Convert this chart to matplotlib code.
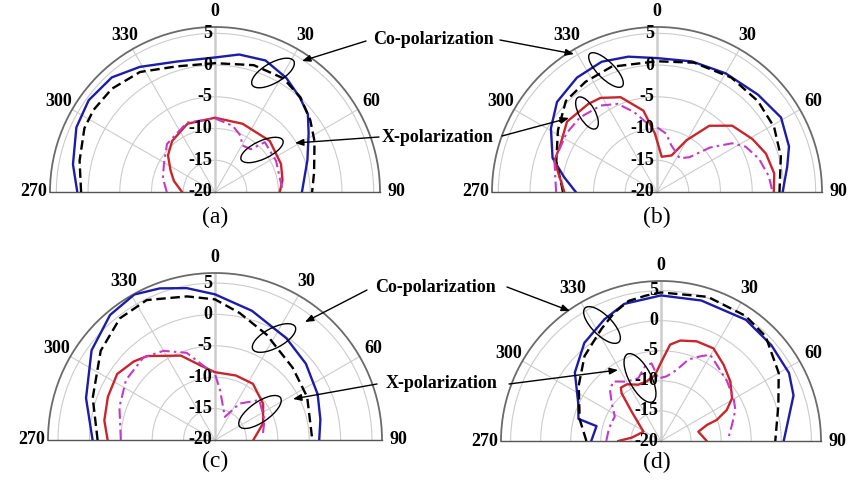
import matplotlib.pyplot as plt
import numpy as np
from matplotlib.patches import Ellipse

plt.rcParams['font.family'] = ['Liberation Serif', 'DejaVu Serif']

# angles in degrees (clockwise from 0 = broadside), gain in dB
# (a)
a_co_ang = [-90, -79, -65, -54, -42, -31, -16, 0, 10, 21, 32, 42, 50, 58, 71, 90]
a_co = [1.7, 2.8, 4.1, 4.6, 4.3, 3.0, 1.4, 1.2, 2.0, 2.2, 1.2, 0.0, -0.9, -2.6, -4.6, -6.3]
a_cs_ang = [-90, -77, -64, -56, -45, -32, -17, 0, 17, 31, 42, 53, 63, 79, 90]
a_cs = [1.1, 1.9, 2.9, 3.1, 3.0, 2.3, 0.7, 0.3, 0.9, 0.9, 0.1, -1.2, -2.4, -4.1, -4.7]
a_xr_ang = [-90, -75, -64, -52, -40, -22, 0, 22, 47, 67, 80, 90]
a_xr = [-14.8, -13.3, -12.2, -10.6, -9.5, -8.4, -8.3, -8.4, -8.2, -8.7, -9.2, -9.8]
a_xm_ang = [-90, -75, -61, -45, -22, 0, 15, 25, 30, 40, 45, 63, 90]
a_xm = [-12.4, -11.5, -10.8, -9.3, -8.2, -8.4, -9.2, -10.3, -11.5, -11.2, -8.9, -9.2, -9.3]

# (b)
b_co_ang = [-90, -81, -72, -59, -48, -35, -23, -12, 0, 15, 30, 46, 59, 71, 79, 90]
b_co = [-7.2, -5.2, -2.7, -0.5, 1.2, 2.0, 2.3, 1.8, 1.1, 1.3, 1.6, 2.1, 2.8, 2.0, 0.9, -0.2]
b_cs_ang = [-90, -73, -58, -45, -33, -20, 0, 16, 33, 48, 61, 74, 90]
b_cs = [-5.2, -3.4, -1.6, 0.3, 0.7, 1.0, 0.6, 1.2, 1.5, 1.4, 1.1, 0.3, -0.7]
b_xr_ang = [-90, -73, -65, -52, -38, -31, -21, -9.5, -2, 7.6, 21.7, 29.7, 38.3, 48.6, 61, 70.6, 81, 90]
b_xr = [-5.4, -3.1, -3.1, -2.0, -2.4, -2.7, -4.0, -7.0, -10.8, -14.4, -13.8, -10.6, -6.7, -4.2, -2.8, -1.8, -1.3, -1.6]
b_xm_ang = [-90, -73, -57, -46, -33, -24, -16, -6, 0, 9, 17, 34, 43, 50, 57, 63, 72, 82, 90]
b_xm = [-4.1, -3.1, -3.0, -3.1, -3.75, -4.8, -6.9, -9.5, -9.8, -10.7, -12.3, -13.6, -12.5, -9.1, -5.9, -4.3, -3.1, -2.2, -1.8]

# (c)
c_co_ang = [-90, -72, -54, -40, -29, -20, -10.5, 0, 16, 35, 50, 66, 79, 90]
c_co = [-0.5, 1.6, 4.3, 6.0, 6.5, 5.7, 4.6, 3.2, 1.4, -0.2, -1.1, -2.1, -2.9, -3.4]
c_cs_ang = [-90, -71, -52, -38, -26, -11, 0, 11, 26, 47, 65, 90]
c_cs = [-1.3, 0.6, 3.1, 4.6, 4.8, 3.3, 2.4, 0.6, -1.3, -3.1, -3.8, -4.5]
c_xr_ang = [-90, -80, -68, -56, -46, -39, -22, -11, 0, 18, 34, 53, 71, 90]
c_xr = [-2.9, -2.1, -1.6, -1.2, -2.0, -2.8, -5.5, -7.9, -9.2, -9.2, -9.2, -10.4, -11.9, -13.9]
c_xm_ang = [-90, -71, -56, -41, -30, -18, -9, 0, 6, 23, 34, 48, 68, 86]
c_xm = [-5.0, -3.9, -2.9, -2.6, -3.6, -5.4, -8.0, -9.5, -12.1, -16.0, -13.0, -10.5, -11.5, -12.4]

# (d)
d_co_ang = [-90, -77, -75, -65, -51.5, -38, -25, -15, 0, 16, 35, 49, 62, 71, 90]
d_co = [-8.4, -9.0, -5.8, -4.8, -1.7, 0.7, 2.3, 3.6, 4.2, 4.3, 4.6, 4.3, 4.1, 3.3, 0.4]
d_cs_ang = [-90, -75, -56, -42, -28, -20, -13, -6, 0, 18, 34, 45, 60, 73, 90]
d_cs = [-7.6, -6.0, -3.5, -1.0, 1.1, 2.7, 3.9, 4.3, 4.7, 5.2, 5.1, 4.6, 2.6, 0.4, -1.0]
d_xr_ang = [-90, -83.5, -62, -45, -39.5, -37, -31, -22, -13.6, -5.2, -0.8, 5.4, 10.8, 19.7,
            29.5, 39.4, 49.3, 58.9, 64.7, 69.3, 70.7, 76, 90]
d_xr = [-12.9, -15.1, -16.7, -13.1, -9.7, -8.9, -9.0, -9.9, -9.8, -9.0, -7.3, -3.9, -3.0, -2.4,
        -2.3, -3.6, -4.8, -6.2, -7.9, -10.1, -11.9, -13.6, -12.4]
d_xm_ang = [-90, -76, -62, -52.6, -45, -38.8, -30, -19.9, -12.1, -6.9, -2.4, 5, 12.4, 18.6,
            24.8, 29.7, 36.2, 47.9, 59.5, 67.3, 77.2, 87.7]
d_xm = [-10.9, -11.1, -11.3, -9.7, -8.0, -7.3, -8.6, -8.9, -7.3, -7.0, -9.6, -9.2, -7.9, -5.7,
        -4.5, -3.5, -4.3, -5.2, -6.0, -6.6, -7.9, -8.8]

theta_ticks = [-90, -60, -30, 0, 30, 60, 90]
theta_labels = ['270', '300', '330', '0', '30', '60', '90']
r_ticks = [-20, -15, -10, -5, 0, 5]
panel_names = ['(a)', '(b)', '(c)', '(d)']

W, H = 850, 480
fig = plt.figure(figsize=(8.5, 4.8), dpi=100)


def half_polar(cx, cy, R, rmax):
    # the half disc sits in the middle half of a square box
    cy_up = H - cy
    ax = fig.add_axes([(cx - R) / W, (cy_up - R / 2) / H, 2 * R / W, 2 * R / H],
                      projection='polar')
    ax.set_theta_zero_location('N')
    ax.set_theta_direction(-1)
    ax.set_thetamin(-90)
    ax.set_thetamax(90)
    ax.set_ylim(-20, rmax)
    ax.set_thetagrids(theta_ticks, theta_labels, fontsize=13, fontweight='bold')
    ax.set_rticks(r_ticks)
    ax.set_yticklabels([])
    ax.grid(color='#cccccc', lw=0.8)
    ax.tick_params(axis='x', direction='out', length=3, width=1, color='#555555', pad=1.5)
    ax.tick_params(axis='y', length=0)
    ax.spines['polar'].set_color('#6a6a6a')
    ax.spines['polar'].set_linewidth(1.3)
    for s in ['start', 'end']:
        ax.spines[s].set_color('#555555')
        ax.spines[s].set_linewidth(1.0)
    ax.plot([0, 0], [-20, rmax], color='#444444', lw=1.0, zorder=1)
    for r in r_ticks:
        ax.annotate(str(r), xy=(0, r), xytext=(-2, 0), textcoords='offset points',
                    ha='right', va='center', fontsize=13, fontweight='bold', zorder=6)
    return ax


def curves(ax, co_ang, co, cs_ang, cs, xr_ang, xr, xm_ang, xm):
    ax.plot(np.deg2rad(co_ang), co, color='#1c1ca8', lw=1.7, zorder=3)
    ax.plot(np.deg2rad(cs_ang), cs, color='black', lw=1.7, ls=(0, (4, 2)), zorder=3)
    ax.plot(np.deg2rad(xr_ang), xr, color='#c8262c', lw=1.7, zorder=4)
    ax.plot(np.deg2rad(xm_ang), xm, color='#c23ac8', lw=1.5, ls=(0, (5, 2, 1.2, 2)), zorder=4)


axa = half_polar(215, 192, 165, 6)
curves(axa, a_co_ang, a_co, a_cs_ang, a_cs, a_xr_ang, a_xr, a_xm_ang, a_xm)
axb = half_polar(657, 192, 165, 6)
curves(axb, b_co_ang, b_co, b_cs_ang, b_cs, b_xr_ang, b_xr, b_xm_ang, b_xm)
axc = half_polar(215, 440, 167, 6.6)
curves(axc, c_co_ang, c_co, c_cs_ang, c_cs, c_xr_ang, c_xr, c_xm_ang, c_xm)
axd = half_polar(661, 441, 160, 6.6)
curves(axd, d_co_ang, d_co, d_cs_ang, d_cs, d_xr_ang, d_xr, d_xm_ang, d_xm)

# panel captions
for name, (x, y) in zip(panel_names, [(215, 217), (657, 217), (215, 461), (657, 462)]):
    fig.text(x / W, 1 - y / H, name, ha='center', va='center', fontsize=17)

# annotation texts and arrows (figure pixels)
labels = [('Co-polarization', 433, 40), ('X-polarization', 438, 137),
          ('Co-polarization', 436, 287), ('X-polarization', 442, 383)]
for txt, x, y in labels:
    fig.text(x / W, 1 - y / H, txt, ha='center', va='center', fontsize=13, fontweight='bold')

arrows = [((366, 41), (302, 61)), ((500, 40), (574, 54)),
          ((379, 137), (295, 143)), ((502, 136), (569, 118)),
          ((367, 290), (305, 322)), ((507, 287), (570, 311)),
          ((377, 384), (293, 399)), ((509, 384), (618, 370))]
for (x0, y0), (x1, y1) in arrows:
    fig.add_artist(plt.Annotation('', xy=(x1, H - y1), xytext=(x0, H - y0),
                                  xycoords='figure pixels', textcoords='figure pixels',
                                  arrowprops=dict(arrowstyle='-|>,head_length=0.5,head_width=0.2',
                                                  color='black', lw=1.0, shrinkA=0, shrinkB=0)))

ellipses = [(273, 73, 48, 20, 30), (262, 150, 46, 18, 25),
            (606, 70, 46, 17, -45), (587, 113, 36, 16, -60),
            (274, 338, 48, 20, 28), (260, 412, 50, 20, 35),
            (602, 325, 48, 20, -45), (640, 378, 54, 22, -62)]
for x, y, w, h, ang in ellipses:
    fig.add_artist(Ellipse((x / 100, (H - y) / 100), w / 100, h / 100, angle=ang,
                           transform=fig.dpi_scale_trans, fill=False, ec='black', lw=1.0))

fig.savefig('out.png', dpi=100)
